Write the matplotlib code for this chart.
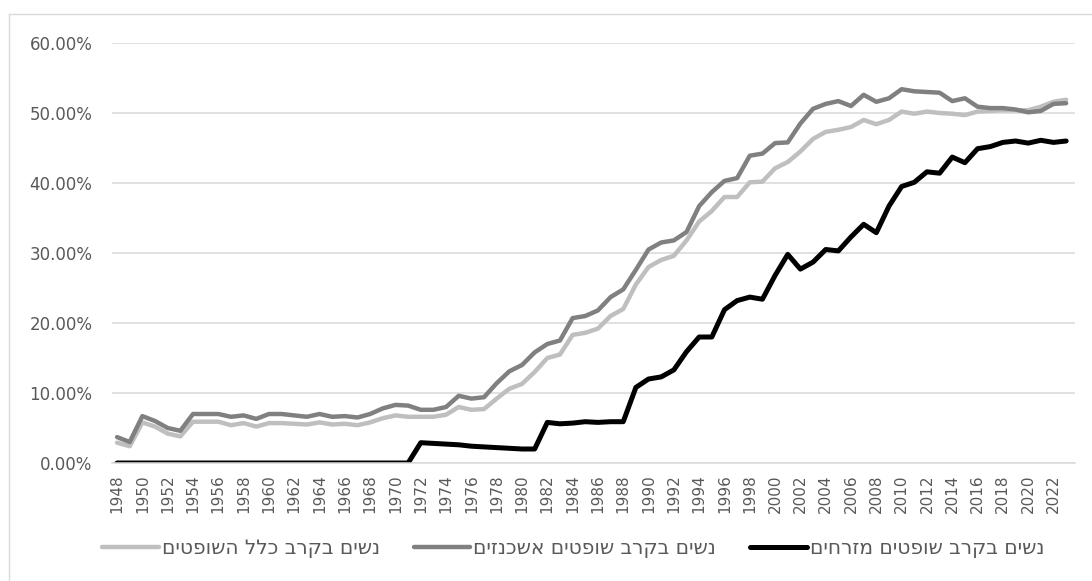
import matplotlib.pyplot as plt
from matplotlib.lines import Line2D
from matplotlib.ticker import PercentFormatter

years = list(range(1948, 2024))

# נשים בקרב כלל השופטים (%)
all_judges = [2.9, 2.4, 5.8, 5.2, 4.2, 3.8, 5.9, 5.9, 5.9, 5.4,
              5.7, 5.2, 5.7, 5.7, 5.6, 5.5, 5.8, 5.5, 5.6, 5.4,
              5.8, 6.4, 6.8, 6.6, 6.6, 6.6, 6.9, 8.0, 7.6, 7.7,
              9.2, 10.6, 11.3, 13.0, 15.0, 15.5, 18.3, 18.6, 19.2, 21.0,
              22.0, 25.5, 28.0, 29.0, 29.6, 31.8, 34.5, 36.0, 38.0, 38.0,
              40.1, 40.2, 42.1, 43.0, 44.5, 46.3, 47.3, 47.6, 48.0, 49.0,
              48.4, 49.0, 50.2, 49.9, 50.2, 50.0, 49.9, 49.7, 50.2, 50.3,
              50.4, 50.4, 50.4, 50.9, 51.6, 51.9]

# נשים בקרב שופטים אשכנזים (%)
ashkenazi = [3.7, 3.0, 6.7, 6.0, 5.0, 4.6, 7.0, 7.0, 7.0, 6.6,
             6.8, 6.3, 7.0, 7.0, 6.8, 6.6, 7.0, 6.6, 6.7, 6.5,
             7.0, 7.8, 8.3, 8.2, 7.6, 7.6, 8.0, 9.6, 9.2, 9.4,
             11.4, 13.1, 14.0, 15.8, 17.0, 17.5, 20.7, 21.0, 21.8, 23.7,
             24.8, 27.6, 30.5, 31.5, 31.8, 33.0, 36.7, 38.7, 40.3, 40.7,
             43.9, 44.2, 45.7, 45.8, 48.5, 50.6, 51.3, 51.7, 51.0, 52.6,
             51.6, 52.1, 53.4, 53.1, 53.0, 52.9, 51.7, 52.1, 50.9, 50.7,
             50.7, 50.5, 50.1, 50.3, 51.3, 51.4]

# נשים בקרב שופטים מזרחים (%)
mizrahi = [0, 0, 0, 0, 0, 0, 0, 0, 0, 0,
           0, 0, 0, 0, 0, 0, 0, 0, 0, 0,
           0, 0, 0, 0, 2.9, 2.8, 2.7, 2.6, 2.4, 2.3,
           2.2, 2.1, 2.0, 2.0, 5.8, 5.6, 5.7, 5.9, 5.8, 5.9,
           5.9, 10.8, 12.0, 12.3, 13.3, 15.9, 18.0, 18.0, 21.9, 23.2,
           23.7, 23.4, 26.8, 29.8, 27.7, 28.7, 30.5, 30.3, 32.3, 34.1,
           32.9, 36.7, 39.5, 40.1, 41.6, 41.4, 43.7, 42.9, 44.9, 45.2,
           45.8, 46.0, 45.7, 46.1, 45.8, 46.0]

labels = ['נשים בקרב כלל השופטים', 'נשים בקרב שופטים אשכנזים', 'נשים בקרב שופטים מזרחים']
colors = ['#BFBFBF', '#808080', '#000000']


def heb(s):
    # matplotlib has no bidi support, so flip the Hebrew text by hand
    return s[::-1]


fig = plt.figure(figsize=(10.92, 5.81), dpi=100)
ax = fig.add_axes([112 / 1092, 1 - 463 / 581, (1075 - 112) / 1092, (463 - 43) / 581])

series = [all_judges, ashkenazi, mizrahi]
widths = [3.2, 3.2, 3.6]
for vals, c, lw in zip(series, colors, widths):
    ax.plot(years, [v / 100 for v in vals], color=c, lw=lw,
            solid_capstyle='round', solid_joinstyle='round')

ax.set_ylim(0, 0.6)
ax.set_xlim(1947.6, 2023.7)
ax.set_yticks([0, 0.1, 0.2, 0.3, 0.4, 0.5, 0.6])
ax.yaxis.set_major_formatter(PercentFormatter(1.0, decimals=2))
ax.set_xticks(years[::2])
ax.set_xticklabels([str(y) for y in years[::2]], rotation=90)
ax.tick_params(axis='y', length=0, pad=14, labelsize=12, labelcolor='#595959')
ax.tick_params(axis='x', length=0, pad=8, labelsize=11, labelcolor='#595959')
ax.grid(axis='y', color='#D9D9D9', lw=1.1)
ax.set_axisbelow(True)
for s in ['top', 'right', 'left']:
    ax.spines[s].set_visible(False)
ax.spines['bottom'].set_color('#D9D9D9')
ax.spines['bottom'].set_linewidth(1.1)

handles = [Line2D([0], [0], color=c, lw=lw, solid_capstyle='round') for c, lw in zip(colors, widths)]
fig.legend(handles, [heb(l) for l in labels], loc='center', bbox_to_anchor=(0.525, 1 - 549 / 581),
           ncol=3, frameon=False, fontsize=14.5, labelcolor='#595959', handlelength=2.8,
           handletextpad=0.15, columnspacing=1.7)

# chart area border
fig.add_artist(Line2D([9 / 1092, 9 / 1092], [0, 1 - 14 / 581], color='#D9D9D9', lw=1))
fig.add_artist(Line2D([9 / 1092, 1], [1 - 14 / 581, 1 - 14 / 581], color='#D9D9D9', lw=1))

fig.savefig('out.png', dpi=100)
